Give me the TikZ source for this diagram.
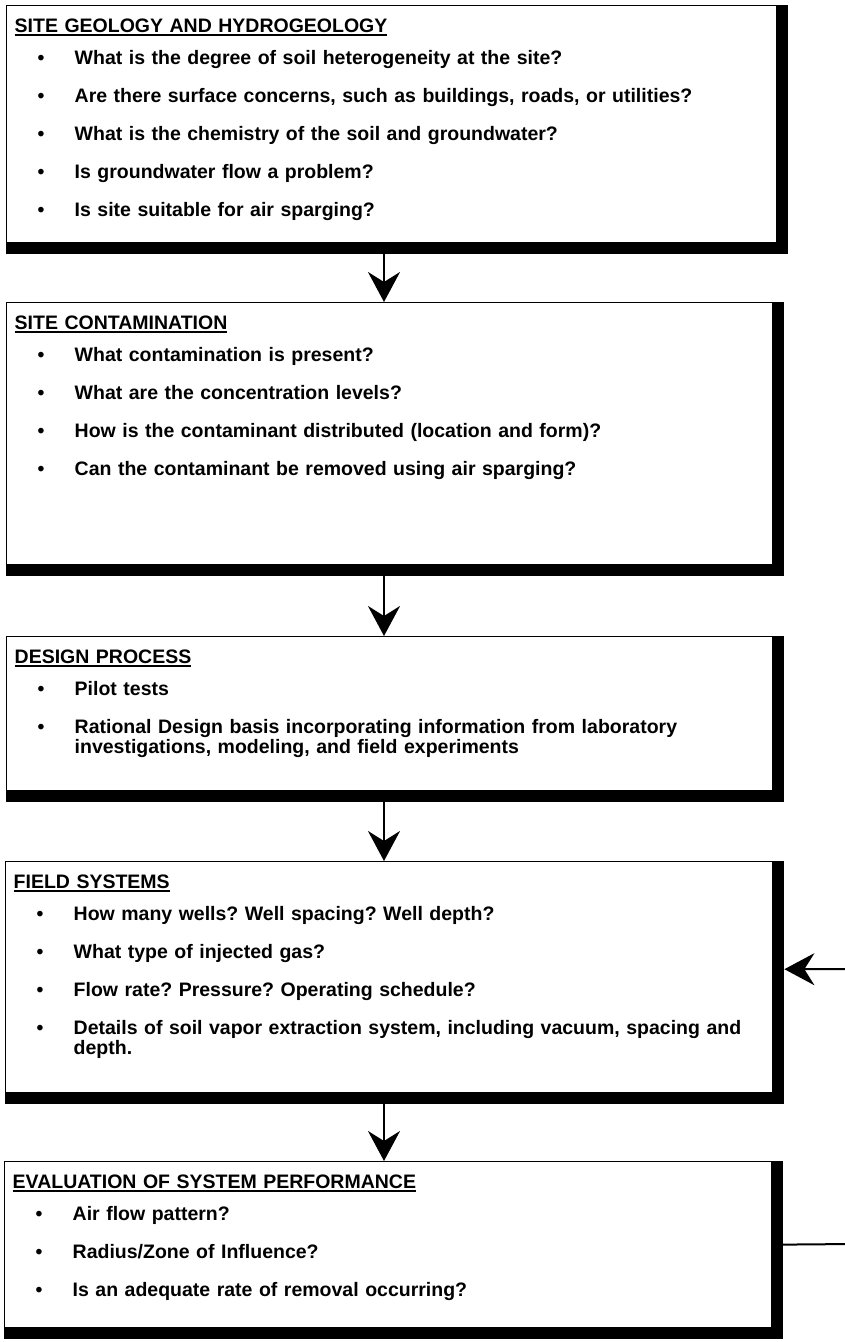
\documentclass[tikz,border=0pt]{standalone}
\usepackage{fontspec}
\setmainfont{Liberation Sans}
\usepackage{tikz}
\usetikzlibrary{arrows.meta}
\newcommand\headgeo{SITE GEOLOGY AND HYDROGEOLOGY}
\newcommand\headcont{SITE CONTAMINATION}
\newcommand\headdes{DESIGN PROCESS}
\newcommand\headfs{FIELD SYSTEMS}
\newcommand\headeval{EVALUATION OF SYSTEM PERFORMANCE}
\newcommand\boxhead[1]{\setbox0\hbox{#1}\rlap{\rule[-2.8pt]{\wd0}{1.6pt}}\box0\par\vspace{12pt}}
\newcommand\qitem[1]{\par\hangindent=60pt\hangafter=1\noindent\makebox[60pt][l]{\hspace{23pt}\textbullet}#1\par\vspace{18pt}}
\tikzstyle{qbox} = [rectangle, draw, line width=1.4pt, anchor=north west, inner xsep=8pt, inner ysep=0pt, text height=27pt, align=left, font=\fontsize{19.5}{20}\selectfont\bfseries\frenchspacing]
\tikzset{>={Stealth[length=30pt, width=32pt, inset=10pt]}}

\begin{document}
\begin{tikzpicture}[x=1pt, y=-1pt, line width=2pt]
\useasboundingbox (0,0) rectangle (844,1342);
\node[qbox, text width=754pt, text depth=210pt] (geo) at (6, 5) {\boxhead{\headgeo}
\qitem{What is the degree of soil heterogeneity at the site?}
\qitem{Are there surface concerns, such as buildings, roads, or utilities?}
\qitem{What is the chemistry of the soil and groundwater?}
\qitem{Is groundwater flow a problem?}
\qitem{Is site suitable for air sparging?}};
\node[qbox, text width=750pt, text depth=235pt] (cont) at (6, 302) {\boxhead{\headcont}
\qitem{What contamination is present?}
\qitem{What are the concentration levels?}
\qitem{How is the contaminant distributed (location and form)?}
\qitem{Can the contaminant be removed using air sparging?}};
\node[qbox, text width=750pt, text depth=127pt] (des) at (6, 636) {\boxhead{\headdes}
\qitem{Pilot tests}
\qitem{Rational Design basis incorporating information from laboratory\newline investigations, modeling, and field experiments}};
\node[qbox, text width=751pt, text depth=204pt] (fs) at (5, 861) {\boxhead{\headfs}
\qitem{How many wells? Well spacing? Well depth?}
\qitem{What type of injected gas?}
\qitem{Flow rate? Pressure? Operating schedule?}
\qitem{Details of soil vapor extraction system, including vacuum, spacing and\newline depth.}};
\node[qbox, text width=751pt, text depth=139pt] (eval) at (4, 1161) {\boxhead{\headeval}
\qitem{Air flow pattern?}
\qitem{Radius/Zone of Influence?}
\qitem{Is an adequate rate of removal occurring?}};
% heavy right and bottom edges
\foreach \b in {geo, cont, des, fs, eval} {
  \fill (\b.north east) rectangle ([xshift=11pt, yshift=-11pt]\b.south east);
  \fill (\b.south west) rectangle ([xshift=11pt, yshift=-11pt]\b.south east);
}
\coordinate (ax) at (384, 0);
\draw [->] (geo.south -| ax) -- (cont.north -| ax);
\draw [->] (cont.south -| ax) -- (des.north -| ax);
\draw [->] (des.south -| ax) -- (fs.north -| ax);
\draw [->] (fs.south -| ax) -- (eval.north -| ax);
\draw [->] (eval.east) -- (852, 1244) |- ([xshift=11pt, yshift=8pt]fs.east);
\end{tikzpicture}
\end{document}
